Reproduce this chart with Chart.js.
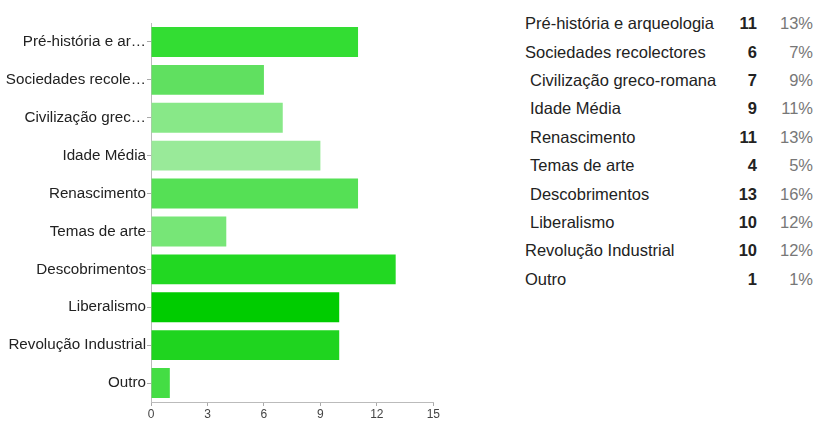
<!DOCTYPE html>
<html>
<head>
<meta charset="utf-8">
<script src="https://cdn.jsdelivr.net/npm/chart.js@4/dist/chart.umd.min.js"></script>
<style>
  html, body { margin: 0; padding: 0; background: #fff; }
  body { width: 815px; height: 421px; position: relative; overflow: hidden; font-family: "Liberation Sans", Arial, sans-serif; }
  #wrap { position: absolute; left: 0; top: 0; width: 441px; height: 421px; }
  #tbl { position: absolute; left: 525px; top: 9px; border-collapse: collapse; font-size: 16.5px; color: #222; table-layout: fixed; }
  #tbl td { height: 28.4px; padding: 0; white-space: nowrap; line-height: 16px; box-sizing: border-box; }
  #tbl td.name { width: 200px; }
  #tbl td.cnt { width: 32px; text-align: right; font-weight: bold; }
  #tbl td.pct { width: 56px; text-align: right; color: #777; }
</style>
</head>
<body>
<div id="wrap"><canvas id="c"></canvas></div>
<table id="tbl"><tbody id="tb"></tbody></table>
<script>
const categories = ["Pré-história e arqueologia", "Sociedades recolectores", "Civilização greco-romana", "Idade Média", "Renascimento", "Temas de arte", "Descobrimentos", "Liberalismo", "Revolução Industrial", "Outro"];
const yTickLabels = ["Pré-história e ar…", "Sociedades recole…", "Civilização grec…", "Idade Média", "Renascimento", "Temas de arte", "Descobrimentos", "Liberalismo", "Revolução Industrial", "Outro"];
const counts = [11, 6, 7, 9, 11, 4, 13, 10, 10, 1];
const percents = ["13%", "7%", "9%", "11%", "13%", "5%", "16%", "12%", "12%", "1%"];
const xTicks = [0, 3, 6, 9, 12, 15];
const barColors = ["#33dd33", "#60e060", "#88e888", "#99ea99", "#55e055", "#77e677", "#22d822", "#00cc00", "#1fd41f", "#44dd44"];
const nameIndent = [0, 0, 1, 1, 1, 1, 1, 1, 0, 0];

const tb = document.getElementById('tb');
categories.forEach((c, i) => {
  const tr = document.createElement('tr');
  const n = document.createElement('td'); n.className = 'name'; n.textContent = c;
  if (nameIndent[i]) n.style.paddingLeft = '5px';
  const k = document.createElement('td'); k.className = 'cnt'; k.textContent = counts[i];
  const p = document.createElement('td'); p.className = 'pct'; p.textContent = percents[i];
  tr.appendChild(n); tr.appendChild(k); tr.appendChild(p);
  tb.appendChild(tr);
});

new Chart(document.getElementById('c'), {
  type: 'bar',
  data: {
    labels: yTickLabels,
    datasets: [{ data: counts, backgroundColor: barColors, borderWidth: 0, barPercentage: 0.79, categoryPercentage: 1 }]
  },
  options: {
    indexAxis: 'y',
    responsive: true,
    maintainAspectRatio: false,
    animation: false,
    layout: { padding: { top: 23, left: 0, right: 0, bottom: 0 } },
    plugins: { legend: { display: false }, tooltip: { enabled: false } },
    scales: {
      x: {
        min: 0, max: 15,
        afterBuildTicks: (s) => { s.ticks = xTicks.map(v => ({ value: v })); },
        afterFit: (s) => { s.height = 19; },
        ticks: { color: '#444', font: { family: 'Liberation Sans', size: 12 }, padding: 1, maxRotation: 0 },
        grid: { drawOnChartArea: false, tickLength: 4, color: '#aaa' },
        border: { color: '#bbb', width: 1 }
      },
      y: {
        afterFit: (s) => { s.width = 151; },
        ticks: { color: '#222', font: { family: 'Liberation Sans', size: 15.2 }, padding: 1, autoSkip: false },
        grid: { drawOnChartArea: false, tickLength: 4, offset: false, color: '#aaa' },
        border: { color: '#bbb', width: 1 }
      }
    }
  }
});
</script>
</body>
</html>
